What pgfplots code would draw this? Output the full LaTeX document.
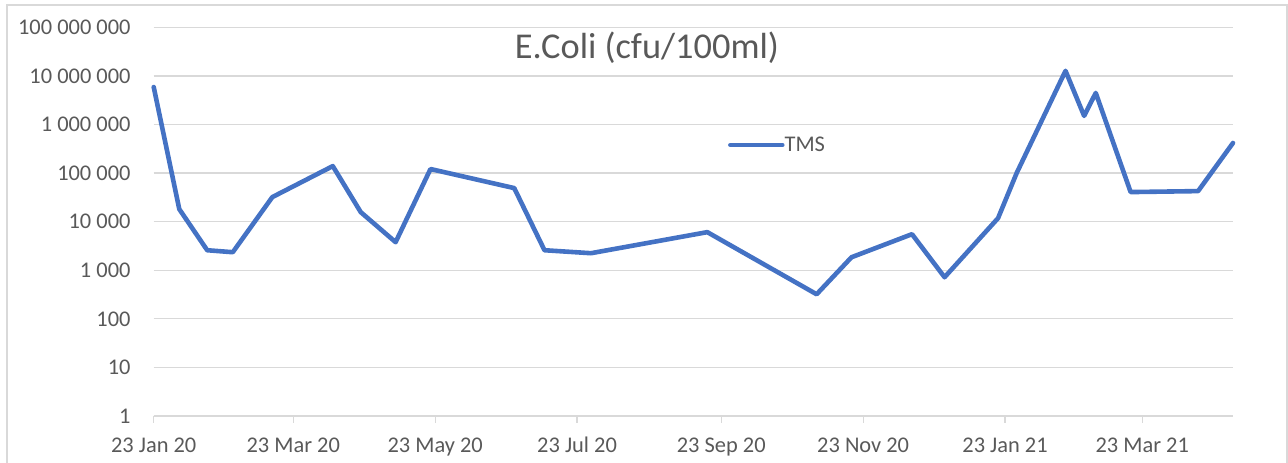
\documentclass[border=0pt]{standalone}
\usepackage{fontspec}
\setmainfont{Carlito}
\usepackage{pgfplots}
\pgfplotsset{compat=1.18}
\definecolor{linec}{HTML}{4472C4}
\definecolor{gridc}{HTML}{D9D9D9}
\definecolor{textc}{HTML}{595959}
\begin{document}
\begin{tikzpicture}[x=1bp,y=1bp]
\useasboundingbox (0,0) rectangle (1288,463);
\draw[gridc, line width=1.3bp] (7,-5) -- (7,458) -- (1287,458) -- (1287,-5);
\begin{axis}[
  at={(153.7bp,47bp)}, anchor=south west,
  width=1079.3bp, height=388.7bp, scale only axis,
  xmin=0, xmax=464, ymode=log, ymin=1, ymax=1e8,
  axis x line*=bottom, axis y line*=left,
  x axis line style={gridc, line width=1.3bp, -},
  y axis line style={draw=none},
  xtick={0,60,121,182,244,305,366,425},
  xticklabels={23 Jan 20,23 Mar 20,23 May 20,23 Jul 20,23 Sep 20,23 Nov 20,23 Jan 21,23 Mar 21},
  ytick={1,10,100,1000,10000,100000,1000000,10000000,100000000},
  yticklabels={1,10,100,1 000,10 000,100 000,1 000 000,10 000 000,100 000 000},
  yminorticks=false, xminorticks=false,
  ymajorgrids, major grid style={gridc, line width=1.3bp},
  tick align=outside, major tick length=7bp,
  xtick style={gridc, line width=1.3bp},
  ytick style={draw=none},
  ticklabel style={font=\fontsize{22.5}{27}\selectfont, text=textc},
  yticklabel style={anchor=east, inner sep=0pt, xshift=-16bp},
  xticklabel style={anchor=base, inner sep=0pt, yshift=-30bp},
  clip=false,
  legend style={at={(axis description cs:0.532,0.697)}, anchor=west, draw=none, fill=none, inner sep=0pt, font=\fontsize{22.5}{27}\selectfont, text=textc, nodes={inner sep=0pt}},
  legend image code/.code={\draw[#1, line width=4.5bp, line cap=round] (0bp,0bp) -- (52bp,0bp);},
]
\addplot[linec, line width=4.6bp, line cap=round, line join=round, mark=none] table {
x y
0 5.9e6
11 1.81e4
23 2580
34 2350
51 3.2e4
77 1.39e5
89 1.57e4
104 3780
119 1.21e5
155 4.9e4
168 2580
188 2240
238 6080
285 320
300 1850
326 5520
340 718
363 1.18e4
371 1.0e5
392 1.27e7
400 1.5e6
405 4.46e6
420 4.06e4
449 4.25e4
464 4.16e5
};
\addlegendentry{TMS}
\end{axis}
\node[anchor=base, inner sep=0pt, font=\fontsize{36.5}{44}\selectfont, text=textc] at (647,404) {E.Coli (cfu/100ml)};
\end{tikzpicture}
\end{document}
